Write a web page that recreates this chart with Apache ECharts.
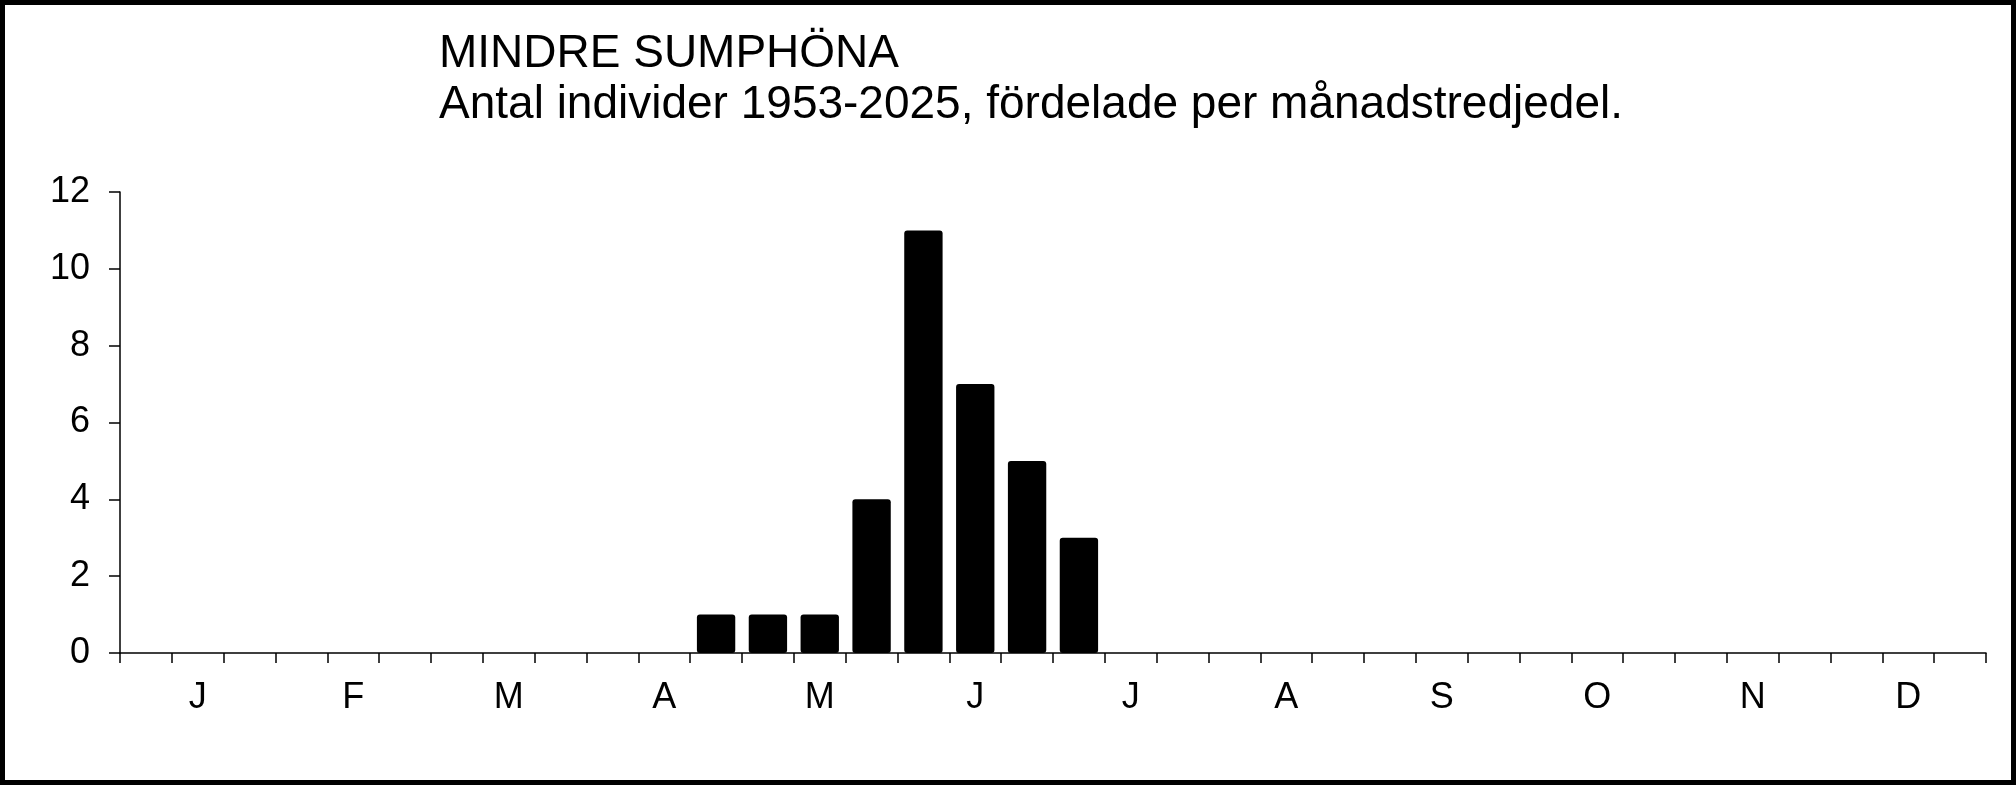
<!DOCTYPE html>
<html>
<head>
<meta charset="utf-8">
<script src="https://cdn.jsdelivr.net/npm/echarts@6/dist/echarts.min.js"></script>
<style>
html,body{margin:0;padding:0;background:#fff;}
#chart{width:2016px;height:785px;}
</style>
</head>
<body>
<div id="chart"></div>
<script>
// Month thirds (36 categories); label shown at the middle third of each month
const months = ['J','F','M','A','M','J','J','A','S','O','N','D'];
const categories = [];
months.forEach(function(m){ categories.push(''); categories.push(m); categories.push(''); });
// Number of individuals per month-third
const counts = [
  0,0,0,  0,0,0,  0,0,0,  0,0,1,
  1,1,4,  11,7,5, 3,0,0,  0,0,0,
  0,0,0,  0,0,0,  0,0,0,  0,0,0
];
const yTicks = {min:0, max:12, interval:2};
const titleLines = ['MINDRE SUMPHÖNA', 'Antal individer 1953-2025, fördelade per månadstredjedel.'];

const FONT = '"Liberation Sans", Arial, sans-serif';
const chart = echarts.init(document.getElementById('chart'), null, {renderer:'canvas'});
chart.setOption({
  animation:false,
  backgroundColor:'#fff',
  title:{
    text: titleLines.join('\n'),
    left: 434, top: 24,
    textStyle:{fontFamily:FONT, fontSize:46, fontWeight:'normal', color:'#000', lineHeight:51}
  },
  grid:{left:120, right:30, top:192, bottom:132, containLabel:false},
  xAxis:{
    type:'category',
    data: categories,
    boundaryGap:true,
    axisLine:{show:true, lineStyle:{color:'#000', width:1.5}},
    axisTick:{show:true, interval:0, alignWithLabel:false, length:10, lineStyle:{color:'#000', width:1.5}},
    axisLabel:{show:true, interval:0, margin:27, color:'#000', fontFamily:FONT, fontSize:36},
    splitLine:{show:false}
  },
  yAxis:{
    type:'value',
    min: yTicks.min, max: yTicks.max, interval: yTicks.interval,
    axisLine:{show:true, lineStyle:{color:'#000', width:1.5}},
    axisTick:{show:true, length:11, lineStyle:{color:'#000', width:1.5}},
    axisLabel:{margin:30, color:'#000', fontFamily:FONT, fontSize:36},
    splitLine:{show:false}
  },
  series:[{
    type:'bar',
    data: counts,
    barCategoryGap:'26%',
    itemStyle:{color:'#000', borderRadius:3}
  }],
  graphic:[{
    type:'rect',
    shape:{x:2.5, y:2.5, width:2016-5, height:785-5},
    style:{fill:null, stroke:'#000', lineWidth:5},
    silent:true, z:100
  }]
});
</script>
</body>
</html>
